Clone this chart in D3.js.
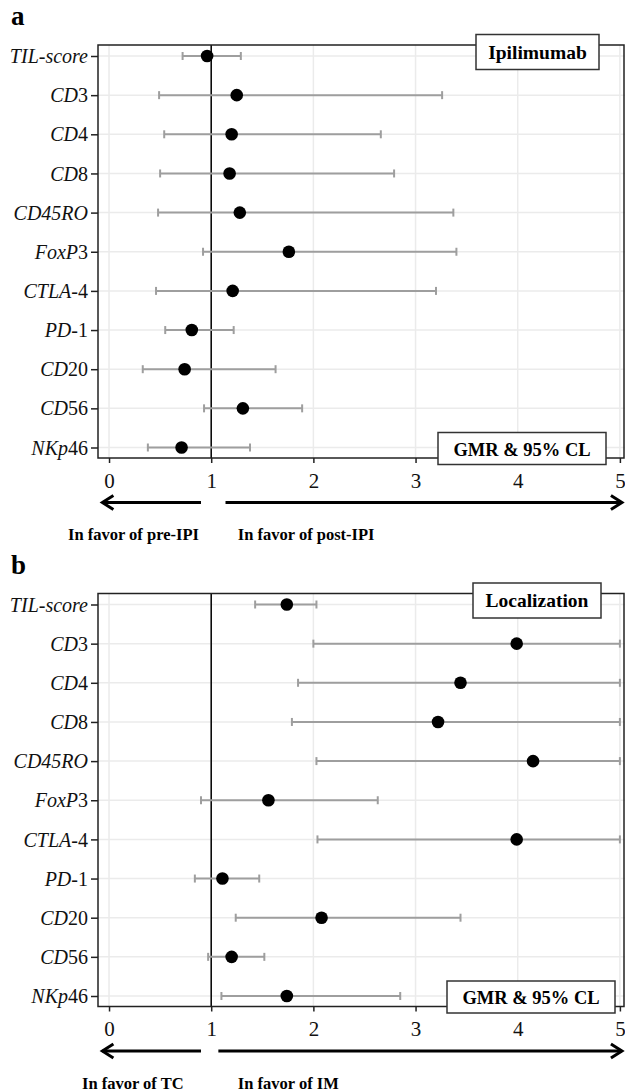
<!DOCTYPE html>
<html>
<head>
<meta charset="utf-8">
<script src="https://cdnjs.cloudflare.com/ajax/libs/d3/7.8.5/d3.min.js"></script>
<style>
  body { margin: 0; background: #fff; }
  svg { display: block; font-family: "Liberation Serif", "Times New Roman", serif; }
  svg text { font-family: "Liberation Serif", "Times New Roman", serif; }
</style>
</head>
<body>
<div id="chart"></div>
<script>
// markers, split into the italic part and the upright part of each label
const labelItalic = ["TIL-score", "CD", "CD", "CD", "CD45RO", "FoxP", "CTLA", "PD", "CD", "CD", "NKp"]
const labelPlain  = ["", "3", "4", "8", "", "3", "-4", "-1", "20", "56", "46"]
const xTicks = [0, 1, 2, 3, 4, 5]

// panel a: ipilimumab (post vs pre)
const ipiGMR  = [0.96, 1.25, 1.20, 1.18, 1.28, 1.76, 1.21, 0.81, 0.74, 1.31, 0.71]
const ipiLow  = [0.72, 0.49, 0.54, 0.50, 0.48, 0.92, 0.46, 0.55, 0.33, 0.93, 0.38]
const ipiHigh = [1.29, 3.26, 2.66, 2.79, 3.37, 3.40, 3.20, 1.22, 1.63, 1.89, 1.38]

// panel b: localization (IM vs TC)
const locGMR  = [1.74, 3.99, 3.44, 3.22, 4.15, 1.56, 3.99, 1.11, 2.08, 1.20, 1.74]
const locLow  = [1.43, 2.00, 1.85, 1.79, 2.03, 0.90, 2.04, 0.84, 1.24, 0.97, 1.10]
const locHigh = [2.03, 5.00, 5.00, 5.00, 5.00, 2.63, 5.00, 1.47, 3.44, 1.52, 2.85]

const width = 625, height = 1092

const svg = d3.select("#chart").append("svg")
    .attr("width", width)
    .attr("height", height)

const x = d3.scaleLinear().domain([-0.108, 5.05]).range([98, 625])

const makePanel = function(top, letter, title, gmr, low, high, leftText, rightText, opts) {
  const frameH = 413
  const bottom = top + frameH
  const data = gmr.map((v, i) => ({ i: i, gmr: v, low: low[i], high: high[i] }))

  const y = d3.scalePoint()
      .domain(d3.range(gmr.length))
      .range([top + 11, bottom - 10.5])

  const g = svg.append("g")

  // panel letter
  g.append("text").text(letter)
      .attr("x", 11).attr("y", top - 20)
      .attr("font-size", 27).attr("font-weight", "bold")

  // grid
  g.selectAll(".vgrid").data(xTicks).enter().append("line")
      .attr("x1", d => x(d)).attr("x2", d => x(d))
      .attr("y1", top).attr("y2", bottom)
      .attr("stroke", "#ebebeb").attr("stroke-width", 1.5)
  g.selectAll(".hgrid").data(data).enter().append("line")
      .attr("x1", x.range()[0]).attr("x2", x.range()[1])
      .attr("y1", d => y(d.i)).attr("y2", d => y(d.i))
      .attr("stroke", "#ebebeb").attr("stroke-width", 1.5)

  // reference line at GMR = 1
  g.append("line")
      .attr("x1", x(1)).attr("x2", x(1))
      .attr("y1", top).attr("y2", bottom)
      .attr("stroke", "#000").attr("stroke-width", 1.5)

  // error bars
  g.selectAll(".ci").data(data).enter().append("line")
      .attr("x1", d => x(d.low)).attr("x2", d => x(d.high))
      .attr("y1", d => y(d.i)).attr("y2", d => y(d.i))
      .attr("stroke", "#9e9e9e").attr("stroke-width", 2)
  g.selectAll(".capL").data(data).enter().append("line")
      .attr("x1", d => x(d.low)).attr("x2", d => x(d.low))
      .attr("y1", d => y(d.i) - 4).attr("y2", d => y(d.i) + 4)
      .attr("stroke", "#9e9e9e").attr("stroke-width", 2)
  g.selectAll(".capR").data(data).enter().append("line")
      .attr("x1", d => x(d.high)).attr("x2", d => x(d.high))
      .attr("y1", d => y(d.i) - 4).attr("y2", d => y(d.i) + 4)
      .attr("stroke", "#9e9e9e").attr("stroke-width", 2)

  // points
  g.selectAll(".pt").data(data).enter().append("circle")
      .attr("cx", d => x(d.gmr)).attr("cy", d => y(d.i))
      .attr("r", 6.3).attr("fill", "#000")

  // frame
  g.append("rect")
      .attr("x", x.range()[0]).attr("y", top)
      .attr("width", x.range()[1] - x.range()[0] - 1).attr("height", frameH)
      .attr("fill", "none").attr("stroke", "#222").attr("stroke-width", 1.5)

  // y axis
  const yAxis = d3.axisLeft(y).tickSize(7).tickSizeOuter(0).tickFormat("")
  const ya = g.append("g").attr("transform", "translate(" + x.range()[0] + ",0)").call(yAxis)
      .attr("font-family", null).attr("font-size", null)
  ya.select(".domain").remove()
  ya.selectAll(".tick line").attr("stroke", "#222").attr("stroke-width", 1.5)
  ya.selectAll(".tick text").remove()
  ya.selectAll(".tick").append("text")
      .attr("x", -10).attr("dy", "0.33em")
      .attr("text-anchor", "end").attr("fill", "#111")
      .attr("font-size", 20)
      .each(function(d) {
        const t = d3.select(this)
        t.append("tspan").attr("font-style", "italic").text(labelItalic[d])
        if (labelPlain[d]) t.append("tspan").text(labelPlain[d])
      })

  // x axis
  const xAxis = d3.axisBottom(x).tickValues(xTicks).tickSize(5).tickSizeOuter(0).tickFormat(d3.format("d"))
  const xa = g.append("g").attr("transform", "translate(0," + bottom + ")").call(xAxis)
      .attr("font-family", null).attr("font-size", null)
  xa.select(".domain").remove()
  xa.selectAll(".tick line").attr("stroke", "#222").attr("stroke-width", 1.5)
  xa.selectAll(".tick text")
      .attr("font-size", 21)
      .attr("fill", "#111").attr("y", 15)

  // title box
  const tb = g.append("g")
  tb.append("rect")
      .attr("x", opts.titleX).attr("y", top - 10.5)
      .attr("width", opts.titleW).attr("height", 35)
      .attr("fill", "#fff").attr("stroke", "#333").attr("stroke-width", 1.5)
  tb.append("text").text(title)
      .attr("x", opts.titleX + opts.titleW / 2).attr("y", top + 13.5)
      .attr("text-anchor", "middle").attr("font-size", 19.5).attr("font-weight", "bold")

  // GMR legend box
  const lb = g.append("g")
  lb.append("rect")
      .attr("x", opts.gmrX).attr("y", bottom - 25.5)
      .attr("width", 168).attr("height", 32)
      .attr("fill", "#fff").attr("stroke", "#333").attr("stroke-width", 1.5)
  lb.append("text").text("GMR & 95% CL")
      .attr("x", opts.gmrX + 84).attr("y", bottom - 2.5)
      .attr("text-anchor", "middle").attr("font-size", 18.5).attr("font-weight", "bold")

  // direction arrows
  const ay = bottom + 44.5
  const arrow = (x1, x2) => {
    const dir = x2 > x1 ? 1 : -1
    g.append("line").attr("x1", x1).attr("x2", x2).attr("y1", ay).attr("y2", ay)
        .attr("stroke", "#000").attr("stroke-width", 3)
    g.append("path")
        .attr("d", "M" + (x2 - dir * 11) + "," + (ay - 7) + "L" + x2 + "," + ay + "L" + (x2 - dir * 11) + "," + (ay + 7))
        .attr("fill", "none").attr("stroke", "#000").attr("stroke-width", 3)
        .attr("stroke-linejoin", "miter")
  }
  arrow(x(0.9), x(-0.065))
  arrow(x(opts.rightStart), x(5.02))

  g.append("text").text(leftText)
      .attr("x", opts.leftTextX).attr("y", bottom + 82)
      .attr("font-size", 16.5).attr("font-weight", "bold")
  g.append("text").text(rightText)
      .attr("x", x(1.26)).attr("y", bottom + 82)
      .attr("font-size", 16.5).attr("font-weight", "bold")
}

makePanel(45, "a", "Ipilimumab", ipiGMR, ipiLow, ipiHigh,
  "In favor of pre-IPI", "In favor of post-IPI",
  { titleX: 476, titleW: 123, gmrX: 438, rightStart: 1.14, leftTextX: 68 })

makePanel(593.5, "b", "Localization", locGMR, locLow, locHigh,
  "In favor of TC", "In favor of IM",
  { titleX: 473, titleW: 128, gmrX: 447, rightStart: 1.07, leftTextX: 82 })
</script>
</body>
</html>
